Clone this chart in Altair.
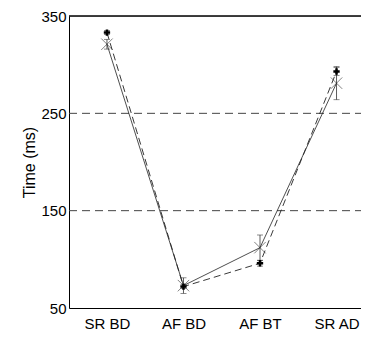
import altair as alt
import pandas as pd

categories = ["SR BD", "AF BD", "AF BT", "SR AD"]
solid_vals = [321, 73, 112, 281]
solid_err = [5, 8, 13, 17]
dashed_vals = [333, 72, 96, 293]
dashed_err = [2, 2, 3, 4]
grid_vals = [150, 250]
y_ticks = [50, 150, 250, 350]

rows = []
for c, v, e in zip(categories, solid_vals, solid_err):
    rows.append({"cat": c, "series": "solid", "value": v, "lo": v - e, "hi": v + e})
for c, v, e in zip(categories, dashed_vals, dashed_err):
    rows.append({"cat": c, "series": "dashed", "value": v, "lo": v - e, "hi": v + e})
df = pd.DataFrame(rows)
solid_df = df[df.series == "solid"]
dashed_df = df[df.series == "dashed"]
grid_df = pd.DataFrame({"g": grid_vals})

W, H = 292, 292
xs = alt.Scale(type="point", padding=0.408, align=0.608, domain=categories)
ys = alt.Scale(domain=[50, 350], nice=False, zero=False)

X = alt.X("cat:O", scale=xs, sort=categories,
          axis=alt.Axis(title=None, ticks=False, labelAngle=0, labelPadding=8,
                        labelFontSize=15, domainColor="black", grid=False))
Y = alt.Y("value:Q", scale=ys,
          axis=alt.Axis(title="Time (ms)", values=y_ticks, ticks=False, grid=False,
                        labelPadding=3, labelFontSize=15, titleFontSize=16,
                        titleFontWeight="normal", titlePadding=3, domainColor="black"))

grid = alt.Chart(grid_df).mark_rule(color="#444", strokeDash=[8, 5], strokeWidth=1).encode(
    y=alt.Y("g:Q", scale=ys), x=alt.value(0), x2=alt.value(W))
top = alt.Chart(grid_df).mark_rule(color="black", strokeWidth=1).encode(
    y=alt.datum(350, scale=ys), x=alt.value(0), x2=alt.value(W))

line_solid = alt.Chart(solid_df).mark_line(color="#222", strokeWidth=0.8).encode(x=X, y=Y)
line_dashed = alt.Chart(dashed_df).mark_line(color="#222", strokeWidth=0.9, strokeDash=[7, 4]).encode(x=X, y=Y)

err = alt.Chart(df).mark_rule(color="#333", strokeWidth=0.8).encode(
    x=X, y=alt.Y("lo:Q", scale=ys), y2="hi:Q")
cap_lo = alt.Chart(df).mark_tick(color="#333", thickness=0.8, size=6, orient="horizontal").encode(
    x=X, y=alt.Y("lo:Q", scale=ys))
cap_hi = alt.Chart(df).mark_tick(color="#333", thickness=0.8, size=6, orient="horizontal").encode(
    x=X, y=alt.Y("hi:Q", scale=ys))

pts_x = alt.Chart(solid_df).mark_point(
    shape="M-1,-1L1,1M-1,1L1,-1", size=130, filled=False, color="#222", strokeWidth=0.8
).encode(x=X, y=Y)
pts_plus = alt.Chart(dashed_df).mark_point(
    shape="cross", size=40, filled=True, color="black", opacity=1
).encode(x=X, y=Y)

chart = alt.layer(grid, top, line_solid, line_dashed, err, cap_lo, cap_hi, pts_x, pts_plus).properties(
    width=W, height=H,
    autosize=alt.AutoSizeParams(type="none"),
    padding={"left": 61, "top": 8, "right": 0, "bottom": 22},
).configure_view(stroke=None).configure(font="Liberation Sans").configure_axis(
    labelColor="black", titleColor="black", labelFont="Liberation Sans", titleFont="Liberation Sans")

chart.save("out.html", embed_options={"renderer": "svg", "actions": False})
